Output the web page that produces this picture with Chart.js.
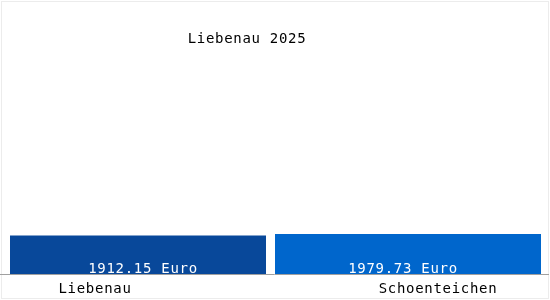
<!DOCTYPE html>
<html>
<head>
<meta charset="utf-8">
<script src="https://cdn.jsdelivr.net/npm/chart.js@4"></script>
<style>
  html, body { margin: 0; padding: 0; background: #fff; }
  #wrap { width: 550px; height: 300px; }
</style>
</head>
<body>
<div id="wrap"><canvas id="barChart" width="550" height="300"></canvas></div>
<script>
const titleText = 'Liebenau 2025';
const categories = ['Liebenau', 'Schoenteichen'];
const values = [1912.15, 1979.73];
const valueLabels = ['1912.15 Euro', '1979.73 Euro'];

const barColors = ['#08489a', '#0066cc'];
const barShares = [256 / 270, 266 / 270];
const fontMono = '14px "DejaVu Sans Mono", monospace';

// label nudges relative to bar centres (the original is not centred)
const catLabelShift = [-43, 30];
const valueLabelShift = [5, -5];

const textPlugin = {
    id: 'textPlugin',
    beforeDraw(chart) {
        const ctx = chart.ctx;
        ctx.save();
        ctx.strokeStyle = '#ececec';
        ctx.lineWidth = 1;
        ctx.strokeRect(1.5, 1.5, chart.width - 3, chart.height - 3);
        ctx.restore();
    },
    afterDatasetsDraw(chart) {
        const ctx = chart.ctx;
        const x = chart.scales.x;
        const y = chart.scales.y;
        const base = y.getPixelForValue(0);

        ctx.save();
        ctx.strokeStyle = '#a0a0a0';
        ctx.lineWidth = 1;
        ctx.beginPath();
        ctx.moveTo(0, Math.round(base) + 0.5);
        ctx.lineTo(chart.width - 1, Math.round(base) + 0.5);
        ctx.stroke();

        ctx.font = fontMono;
        ctx.letterSpacing = '0.7px';
        ctx.textAlign = 'center';
        ctx.textBaseline = 'alphabetic';

        ctx.fillStyle = '#000';
        ctx.fillText(titleText, chart.chartArea.left + 244, 43);

        categories.forEach((c, i) => {
            const cx = x.getPixelForValue(i);
            ctx.fillStyle = '#000';
            ctx.fillText(c, cx + catLabelShift[i], base + 19);
            ctx.fillStyle = '#fff';
            ctx.fillText(valueLabels[i], cx + valueLabelShift[i], base - 1);
        });
        ctx.restore();
    }
};

// one dataset per bar so each can keep its own width
const datasets = values.map((v, i) => ({
    data: values.map((_, j) => (j === i ? v : null)),
    backgroundColor: barColors[i],
    borderWidth: 0,
    barPercentage: barShares[i],
    categoryPercentage: 1,
    grouped: false
}));

new Chart(document.getElementById('barChart').getContext('2d'), {
    type: 'bar',
    data: { labels: categories, datasets: datasets },
    options: {
        responsive: false,
        animation: false,
        layout: { padding: { left: 3, right: 7, top: 60, bottom: 26 } },
        plugins: {
            legend: { display: false },
            title: { display: false },
            tooltip: { enabled: false }
        },
        scales: {
            x: { display: false, offset: true },
            y: { display: false, min: 0, max: 10600 }
        }
    },
    plugins: [textPlugin]
});
</script>
</body>
</html>
